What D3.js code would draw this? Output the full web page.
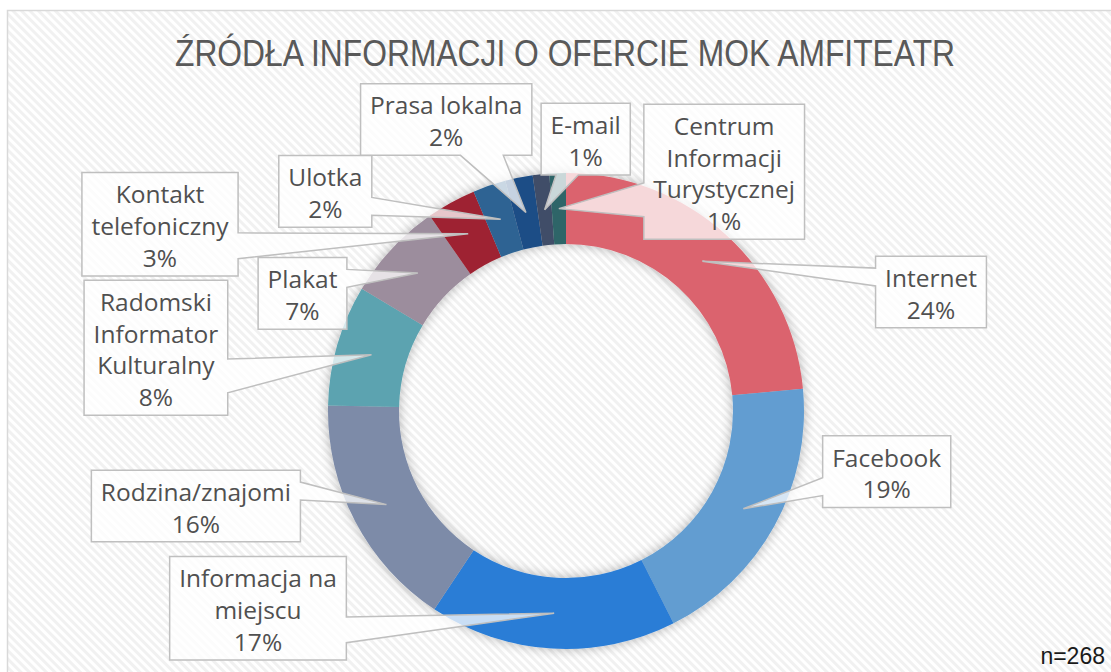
<!DOCTYPE html>
<html>
<head>
<meta charset="utf-8">
<script src="https://cdn.jsdelivr.net/npm/d3@7/dist/d3.min.js"></script>
<style>
  html, body { margin: 0; padding: 0; background: #ffffff; }
  svg { display: block; }
</style>
</head>
<body>
<svg id="chart" width="1111" height="672"></svg>
<script>
// ---------------- DATA ----------------
const title = "ŹRÓDŁA INFORMACJI O OFERCIE MOK AMFITEATR";
const note = "n=268";
const categories = [
  "Internet", "Facebook", "Informacja na miejscu", "Rodzina/znajomi",
  "Radomski Informator Kulturalny", "Plakat", "Kontakt telefoniczny",
  "Ulotka", "Prasa lokalna", "E-mail", "Centrum Informacji Turystycznej"
];
const counts = [63, 51, 45, 43, 22, 18, 9, 6, 5, 3, 3];
const colors = [
  "#DB636E", "#629DD1", "#2A7DD6", "#7D8BA8", "#5BA3B0", "#9C8D9D",
  "#9E2231", "#2D6393", "#1E4D86", "#404E68", "#2E6567"
];
// label line breaks (text wrapping as in the original boxes)
const labelLines = [
  ["Internet"], ["Facebook"], ["Informacja na", "miejscu"], ["Rodzina/znajomi"],
  ["Radomski", "Informator", "Kulturalny"], ["Plakat"], ["Kontakt", "telefoniczny"],
  ["Ulotka"], ["Prasa lokalna"], ["E-mail"], ["Centrum", "Informacji", "Turystycznej"]
];
// ---------------- LAYOUT ----------------
const W = 1111, H = 672;
const cx = 566, cy = 411, rOuter = 238, rInner = 167;
// callout box centres
const boxCenters = [
  [931, 292], [886.7, 471.7], [258, 608.3], [195.9, 506],
  [155.9, 347.7], [302.5, 293.3], [160, 224.2],
  [325.3, 191.4], [446.2, 119.5], [585.7, 139.2], [724.2, 171.7]
];
const lineH = 31.7, firstBase = 30.7, boxPadY = 8.3, boxPadX = 19;

const svg = d3.select("#chart");
const defs = svg.append("defs");

// diagonal stripe background pattern
const pat = defs.append("pattern")
  .attr("id", "stripes").attr("patternUnits", "userSpaceOnUse")
  .attr("width", 6).attr("height", 6)
  .attr("patternTransform", "rotate(-45)");
pat.append("rect").attr("width", 6).attr("height", 6).attr("fill", "#ffffff");
pat.append("rect").attr("width", 3).attr("height", 6).attr("fill", "#f1f1f1");

// soft shadow for ring
const f = defs.append("filter").attr("id", "shadow")
  .attr("x", "-20%").attr("y", "-20%").attr("width", "140%").attr("height", "140%");
f.append("feGaussianBlur").attr("in", "SourceAlpha").attr("stdDeviation", 6).attr("result", "b");
f.append("feComponentTransfer").attr("in", "b").attr("result", "b2")
  .append("feFuncA").attr("type", "linear").attr("slope", 0.3);
const m = f.append("feMerge");
m.append("feMergeNode").attr("in", "b2");
m.append("feMergeNode").attr("in", "SourceGraphic");

// chart area
svg.append("rect").attr("x", 0).attr("y", 0).attr("width", W).attr("height", H).attr("fill", "#fff");
svg.append("rect").attr("x", 7.5).attr("y", 10.5).attr("width", W + 10).attr("height", H + 10)
  .attr("fill", "url(#stripes)").attr("stroke", "#d9d9d9").attr("stroke-width", 1.5);

// title (narrow look)
svg.append("text")
  .attr("x", 565).attr("y", 66)
  .attr("text-anchor", "middle")
  .attr("font-family", "'Liberation Sans', Arial, sans-serif")
  .attr("font-size", 36)
  .attr("textLength", 780)
  .attr("lengthAdjust", "spacingAndGlyphs")
  .attr("fill", "#595959")
  .text(title);

// donut
const data = categories.map((c, i) => ({ cat: c, value: counts[i], color: colors[i], lines: labelLines[i], box: boxCenters[i] }));
const total = d3.sum(counts);
const pie = d3.pie().sort(null).value(d => d.value).startAngle(0).endAngle(2 * Math.PI);
const arc = d3.arc().innerRadius(rInner).outerRadius(rOuter);
const arcs = pie(data);

const g = svg.append("g").attr("transform", `translate(${cx},${cy})`);
g.append("g").attr("filter", "url(#shadow)")
  .selectAll("path").data(arcs).join("path")
  .attr("d", arc)
  .attr("fill", d => d.data.color);

// callouts
const fmt = d3.format(".0%");
const font = "'Open Sans', 'Liberation Sans', sans-serif";
const labelG = svg.append("g");

arcs.forEach(a => {
  const d = a.data;
  const lines = d.lines.concat([fmt(d.value / total)]);
  const [bx, by] = d.box;
  const tg = labelG.append("g");
  const tmp = tg.append("text").attr("font-family", font).attr("font-size", 24.5);
  let maxW = 0;
  lines.forEach(l => {
    tmp.text(l);
    maxW = Math.max(maxW, tmp.node().getComputedTextLength());
  });
  tmp.remove();
  const w = maxW + boxPadX, h = lines.length * lineH + boxPadY;
  const L = bx - w / 2, R = bx + w / 2, T = by - h / 2, B = by + h / 2;
  const [tcx, tcy] = arc.centroid(a);
  const tx = tcx + cx, ty = tcy + cy;
  const dxn = (tx - bx) / w, dyn = (ty - by) / h;
  let p;
  if (Math.abs(dxn) > Math.abs(dyn)) {
    const y1 = ty > by ? T + h * 7 / 12 : T + h * 2 / 12;
    const y2 = ty > by ? T + h * 10 / 12 : T + h * 5 / 12;
    if (dxn > 0) {
      p = `M${L},${T}H${R}V${y1}L${tx},${ty}L${R},${y2}V${B}H${L}Z`;
    } else {
      p = `M${L},${T}H${R}V${B}H${L}V${y2}L${tx},${ty}L${L},${y1}Z`;
    }
  } else {
    const x1 = tx > bx ? L + w * 7 / 12 : L + w * 2 / 12;
    const x2 = tx > bx ? L + w * 10 / 12 : L + w * 5 / 12;
    if (dyn > 0) {
      p = `M${L},${T}H${R}V${B}H${x2}L${tx},${ty}L${x1},${B}H${L}Z`;
    } else {
      p = `M${L},${T}H${x1}L${tx},${ty}L${x2},${T}H${R}V${B}H${L}Z`;
    }
  }
  tg.append("path").attr("d", p)
    .attr("fill", "#ffffff").attr("fill-opacity", 0.75)
    .attr("stroke", "#bfbfbf").attr("stroke-width", 1.5)
    .attr("stroke-linejoin", "miter");
  const t = tg.append("text")
    .attr("font-family", font).attr("font-size", 24.5)
    .attr("fill", "#505050").attr("text-anchor", "middle");
  lines.forEach((l, i) => {
    t.append("tspan").attr("x", bx).attr("y", T + firstBase + i * lineH).text(l);
  });
});

// sample note
svg.append("text")
  .attr("x", 1105).attr("y", 664)
  .attr("text-anchor", "end")
  .attr("font-family", "'Liberation Sans', Arial, sans-serif")
  .attr("font-size", 23)
  .attr("fill", "#1a1a1a")
  .text(note);
</script>
</body>
</html>
